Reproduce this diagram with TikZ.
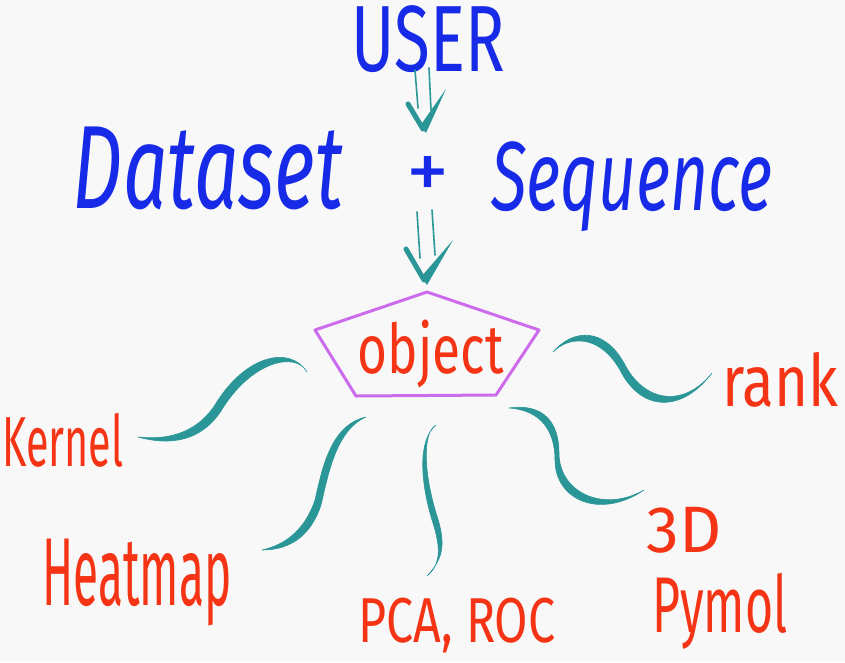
\documentclass[tikz,border=0pt]{standalone}
\usepackage{fontspec}
\setmainfont{Fira Sans}
\usetikzlibrary{calc}
\definecolor{bg}{RGB}{248,248,248}
\definecolor{ublue}{RGB}{22,42,232}
\definecolor{ored}{RGB}{244,52,20}
\definecolor{tealb}{RGB}{42,150,152}
\definecolor{pent}{RGB}{204,108,236}
\begin{document}
\begin{tikzpicture}[x=1pt,y=-1pt,
  every node/.style={inner sep=0pt,outer sep=0pt},
  bluetxt/.style={text=ublue},
  redtxt/.style={text=ored},
  brush/.style={fill=tealb,draw=tealb,line width=0.6pt,line join=round},
  thinline/.style={draw=tealb,line width=1.6pt,line cap=round},
  vmark/.style={draw=tealb,line width=5pt,line cap=round,line join=round},
  pentline/.style={draw=pent,line width=3pt,line join=round}]
\fill[bg] (0,0) rectangle (845,662);
\useasboundingbox (0,0) rectangle (845,662);

% texts
\node[bluetxt] (user) at (428,39) {\resizebox*{153pt}{67pt}{USER}};
\node[bluetxt] (dataset) at (208,168) {\resizebox*{270pt}{83pt}{\itshape Dataset}};
\node[bluetxt] (plus) at (428,178) {\resizebox*{43pt}{43pt}{+}};
\node[bluetxt] (sequence) at (632,187) {\resizebox*{281pt}{90pt}{\itshape Sequence}};
\node[redtxt] (object) at (431,354) {\resizebox*{146pt}{68pt}{object}};
\node[redtxt] (kernel) at (63,440) {\resizebox*{121pt}{54pt}{Kernel}};
\node[redtxt] (heatmap) at (137,583) {\resizebox*{189pt}{87pt}{Heatmap}};
\node[redtxt] (pca) at (457,626) {\resizebox*{197pt}{55pt}{PCA, ROC}};
\node[redtxt] (threed) at (684,530) {\resizebox*{75pt}{46pt}{3D}};
\node[redtxt] (pymol) at (720,611) {\resizebox*{135pt}{76pt}{Pymol}};
\node[redtxt] (rank) at (780,380) {\resizebox*{116pt}{55pt}{rank}};

% pentagon around object
\coordinate (pA) at (427,292);
\coordinate (pR) at (539,330);
\coordinate (pBR) at (496,395);
\coordinate (pBL) at (356,396);
\coordinate (pL) at (315,330);
\path[pentline] (pA) -- (pR) -- (pBR) -- (pBL) -- (pL) -- cycle;

% arrow USER -> Dataset + Sequence
\draw[thinline] (415,70) -- (418,108);
\draw[thinline] (429,68) -- (431,110);
\draw[vmark] (408,104) -- (423,129);
\fill[tealb] (420,126) -- (446,89) -- (426,133) -- cycle;

% arrow -> object
\draw[thinline] (417,212) -- (420,258);
\draw[thinline] (432,210) -- (435,255);
\draw[vmark] (406,249) -- (424,280);
\fill[tealb] (421,277) -- (453,240) -- (427,285) -- cycle;

% brush connectors
% Kernel
\path[brush] (307,372) .. controls (290,345) and (245,355) .. (215,405)
  .. controls (195,435) and (165,440) .. (138,437)
  .. controls (171,446) and (201,441) .. (221,411)
  .. controls (251,361) and (296,351) .. (307,372) -- cycle;
% rank
\path[brush] (553,352) .. controls (570,335) and (600,335) .. (620,370)
  .. controls (640,410) and (680,415) .. (712,373)
  .. controls (684,408) and (644,403) .. (624,363)
  .. controls (604,328) and (574,328) .. (553,352) -- cycle;
% Heatmap
\path[brush] (366,417) .. controls (330,425) and (322,470) .. (315,500)
  .. controls (305,530) and (285,545) .. (262,550)
  .. controls (291,550) and (311,535) .. (321,505)
  .. controls (328,475) and (336,430) .. (366,417) -- cycle;
% PCA, ROC
\path[brush] (436,425) .. controls (418,440) and (420,480) .. (432,520)
  .. controls (442,550) and (440,565) .. (427,576)
  .. controls (444,558) and (446,543) .. (436,513)
  .. controls (424,473) and (422,433) .. (436,425) -- cycle;
% 3D Pymol
\path[brush] (509,408) .. controls (540,410) and (555,430) .. (555,460)
  .. controls (555,500) and (600,520) .. (644,490)
  .. controls (604,513) and (559,493) .. (559,453)
  .. controls (559,423) and (544,403) .. (509,408) -- cycle;
\end{tikzpicture}
\end{document}
